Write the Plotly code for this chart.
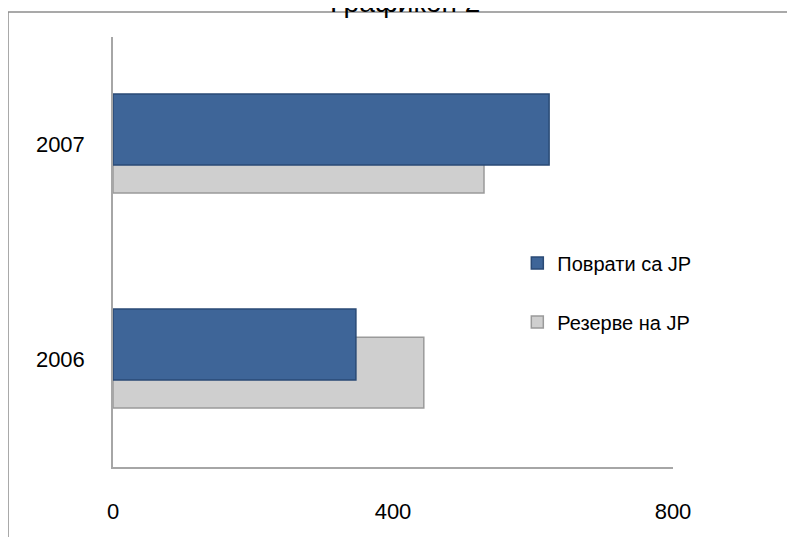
import plotly.graph_objects as go

years = ["2006", "2007"]
povrati = [347, 623]
rezerve = [444, 530]
series_names = ["Поврати са JP", "Резерве на JP"]
x_ticks = [0, 400, 800]
title_text = "Графикон 2"

fig = go.Figure()
fig.add_trace(go.Bar(
    y=years, x=rezerve, orientation="h", name=series_names[1],
    offset=-0.226, width=0.33,
    marker=dict(color="#CFCFCF", line=dict(color="#9A9A9A", width=1.5)),
    legendrank=2, legendgroup="b",
))
fig.add_trace(go.Bar(
    y=years, x=povrati, orientation="h", name=series_names[0],
    offset=-0.095, width=0.33,
    marker=dict(color="#3E6598", line=dict(color="#2A4A75", width=1.5)),
    legendrank=1, legendgroup="a",
))

fig.update_layout(
    width=779, height=529,
    margin=dict(l=105, r=114, t=29, b=70),
    paper_bgcolor="white", plot_bgcolor="white",
    barmode="overlay",
    font=dict(family="Liberation Sans", color="#000000"),
    showlegend=True,
    legend=dict(
        x=0.722, y=0.52, xanchor="left", yanchor="top",
        font=dict(size=20, family="Liberation Sans"),
        tracegroupgap=30, traceorder="grouped",
        bgcolor="rgba(0,0,0,0)", itemwidth=30,
    ),
    xaxis=dict(
        range=[0, 800], tickvals=x_ticks, ticktext=[str(v) for v in x_ticks],
        showgrid=False, zeroline=False, showline=True, linecolor="#A6A6A6", linewidth=1.5,
        ticks="", ticklabelstandoff=24, tickfont=dict(size=22), automargin=False,
    ),
    yaxis=dict(
        type="category", categoryarray=years, categoryorder="array",
        range=[-0.5, 1.5], showgrid=False, zeroline=False,
        showline=True, linecolor="#A6A6A6", linewidth=1.5,
        ticks="", ticklabelstandoff=22, tickfont=dict(size=22), automargin=False,
    ),
    shapes=[
        dict(type="line", xref="paper", yref="paper",
             x0=-0.1875, x1=-0.1875, y0=-0.3, y1=1.058,
             line=dict(color="#8C8C8C", width=1.5), layer="below"),
        dict(type="line", xref="paper", yref="paper",
             x0=-0.1875, x1=1.4, y0=1.058, y1=1.058,
             line=dict(color="#8C8C8C", width=1.5), layer="below"),
    ],
    annotations=[dict(
        text=title_text, xref="paper", yref="paper",
        x=0.521, y=1.080, xanchor="center", yanchor="middle",
        showarrow=False, font=dict(size=28, family="Liberation Sans"),
    )],
)

fig.write_html("out.html")
